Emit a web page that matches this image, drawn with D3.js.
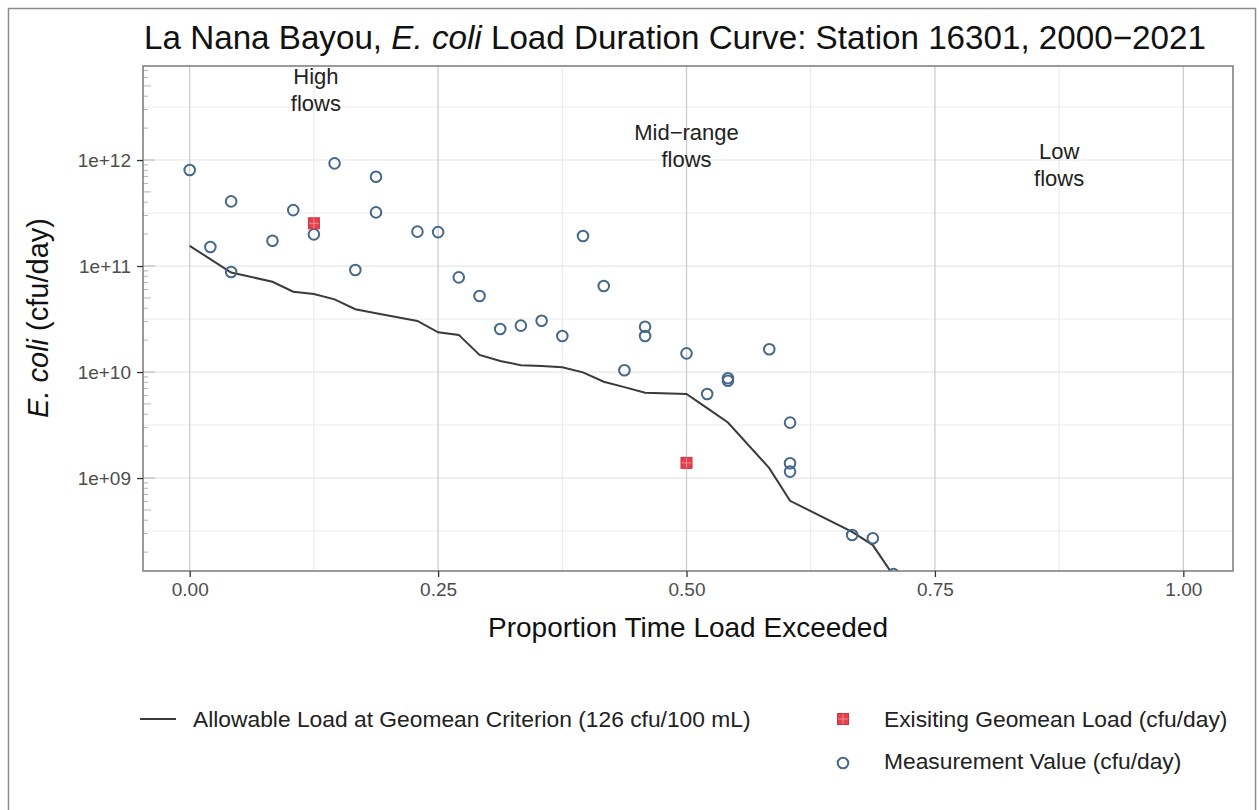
<!DOCTYPE html>
<html>
<head>
<meta charset="utf-8">
<script src="https://cdn.jsdelivr.net/npm/d3@7"></script>
<style>
  body { margin: 0; background: #fff; }
  text { font-family: "Liberation Sans", Arial, sans-serif; }
</style>
</head>
<body>
<svg id="chart" width="1259" height="810"></svg>
<script>
// measurements (proportion of time exceeded, cfu/day)
var pointProp = [0, 0.0208, 0.0417, 0.0417, 0.0833, 0.1042, 0.125, 0.1458, 0.1667, 0.1875, 0.1875,
    0.2292, 0.25, 0.2708, 0.2917, 0.3125, 0.3333, 0.3542, 0.375, 0.3958, 0.4167, 0.4375, 0.4583, 0.4583,
    0.5, 0.5208, 0.5417, 0.5417, 0.5833, 0.6042, 0.6042, 0.6042, 0.6667, 0.6875, 0.7083];
var pointLoad = [8.05e11, 1.51e11, 4.07e11, 8.77e10, 1.73e11, 3.37e11, 1.99e11, 9.3e11, 9.16e10, 6.95e11, 3.21e11,
    2.11e11, 2.09e11, 7.82e10, 5.21e10, 2.55e10, 2.74e10, 3.05e10, 2.19e10, 1.92e11, 6.47e10, 1.04e10, 2.67e10, 2.19e10,
    1.5e10, 6.2e9, 8.73e9, 8.28e9, 1.64e10, 3.33e9, 1.38e9, 1.15e9, 2.9e8, 2.7e8, 1.24e8];

// allowable load curve
var curveProp = [0, 0.0417, 0.0833, 0.1042, 0.125, 0.1458, 0.1667, 0.1875, 0.2292, 0.25, 0.2708, 0.2917,
    0.3125, 0.3333, 0.3542, 0.375, 0.3958, 0.4167, 0.4375, 0.4583, 0.5, 0.5208, 0.5417, 0.5833, 0.6042,
    0.6667, 0.6875, 0.7083];
var curveLoad = [1.55e11, 8.69e10, 7.11e10, 5.73e10, 5.45e10, 4.85e10, 3.91e10, 3.58e10, 3.03e10, 2.37e10, 2.24e10, 1.45e10,
    1.27e10, 1.16e10, 1.14e10, 1.11e10, 9.93e9, 8.1e9, 7.2e9, 6.38e9, 6.2e9, 4.57e9, 3.34e9, 1.24e9, 6.1e8,
    3.11e8, 2.33e8, 1.2e8];

// existing geomean loads
var geomeanProp = [0.125, 0.5];
var geomeanLoad = [2.53e11, 1.39e9];

var xTicks = [0, 0.25, 0.5, 0.75, 1];
var xTickLabels = ["0.00", "0.25", "0.50", "0.75", "1.00"];
var xMinor = [0.125, 0.375, 0.625, 0.875];
var yTicks = [1e9, 1e10, 1e11, 1e12];
var yTickLabels = ["1e+09", "1e+10", "1e+11", "1e+12"];
var yMinor = [Math.pow(10, 8.5), Math.pow(10, 9.5), Math.pow(10, 10.5), Math.pow(10, 11.5), Math.pow(10, 12.5)];

var regionLines = [["High", "flows"], ["Mid\u2212range", "flows"], ["Low", "flows"]];
var regionProp = [0.127, 0.5, 0.875];
var regionLoad = [4.62e12, 1.37e12, 8.97e11];

var svg = d3.select("#chart");
var pLeft = 143, pRight = 1233, pTop = 66, pBottom = 571;

var x = d3.scaleLinear().domain([-0.047, 1.05]).range([pLeft, pRight]);
var y = d3.scaleLog().domain([Math.pow(10, 8.123), Math.pow(10, 12.887)]).range([pBottom, pTop]);

// outer frame
svg.append("rect").attr("x", 8.5).attr("y", 8.5).attr("width", 1247).attr("height", 820)
    .attr("fill", "#fff").attr("stroke", "#8c8c8c").attr("stroke-width", 1.5);

// title
var title = svg.append("text").attr("x", 675).attr("y", 49).attr("text-anchor", "middle")
    .attr("font-size", 33.2).attr("fill", "#111");
title.append("tspan").text("La Nana Bayou, ");
title.append("tspan").attr("font-style", "italic").text("E. coli");
title.append("tspan").text(" Load Duration Curve: Station 16301, 2000\u22122021");

// grid
var grid = svg.append("g");
grid.selectAll("line.hmin").data(yMinor).enter().append("line")
    .attr("x1", pLeft).attr("x2", pRight)
    .attr("y1", function (d) { return y(d); }).attr("y2", function (d) { return y(d); })
    .attr("stroke", "#ececec").attr("stroke-width", 1);
grid.selectAll("line.hmaj").data(yTicks).enter().append("line")
    .attr("x1", pLeft).attr("x2", pRight)
    .attr("y1", function (d) { return y(d); }).attr("y2", function (d) { return y(d); })
    .attr("stroke", "#e6e6e6").attr("stroke-width", 1.2);
grid.selectAll("line.vmin").data(xMinor).enter().append("line")
    .attr("y1", pTop).attr("y2", pBottom)
    .attr("x1", function (d) { return x(d); }).attr("x2", function (d) { return x(d); })
    .attr("stroke", "#e8e8e8").attr("stroke-width", 1);
grid.selectAll("line.vmaj").data(xTicks).enter().append("line")
    .attr("y1", pTop).attr("y2", pBottom)
    .attr("x1", function (d) { return x(d); }).attr("x2", function (d) { return x(d); })
    .attr("stroke", "#cdcdcd").attr("stroke-width", 1.3);

// log ticks inside the left edge
var logTicks = [];
for (var e = 8; e <= 12; e++) {
    for (var k = 1; k <= 9; k++) {
        var v = k * Math.pow(10, e);
        if (v >= y.domain()[0] && v <= y.domain()[1]) logTicks.push({v: v, k: k});
    }
}
grid.selectAll("line.logt").data(logTicks).enter().append("line")
    .attr("x1", pLeft)
    .attr("x2", function (d) { return pLeft + (d.k == 1 ? 12 : (d.k == 5 ? 8 : 5)); })
    .attr("y1", function (d) { return y(d.v); }).attr("y2", function (d) { return y(d.v); })
    .attr("stroke", "#b5b5b5").attr("stroke-width", 1);

// region labels
var regions = svg.append("g");
regionLines.forEach(function (lines, i) {
    var t = regions.append("text").attr("text-anchor", "middle")
        .attr("font-size", 22).attr("fill", "#222");
    lines.forEach(function (s, j) {
        t.append("tspan").attr("x", x(regionProp[i]))
            .attr("y", y(regionLoad[i]) - 6 + j * 27).text(s);
    });
});

svg.append("clipPath").attr("id", "panel").append("rect")
    .attr("x", pLeft).attr("y", pTop).attr("width", pRight - pLeft).attr("height", pBottom - pTop);

var plot = svg.append("g").attr("clip-path", "url(#panel)");

var line = d3.line()
    .x(function (d, i) { return x(curveProp[i]); })
    .y(function (d) { return y(d); });
plot.append("path").datum(curveLoad).attr("d", line)
    .attr("fill", "none").attr("stroke", "#3a3a3a").attr("stroke-width", 2);

plot.selectAll("circle").data(pointLoad).enter().append("circle")
    .attr("cx", function (d, i) { return x(pointProp[i]); })
    .attr("cy", function (d) { return y(d); })
    .attr("r", 5.3).attr("fill", "none").attr("stroke", "#46698a").attr("stroke-width", 2);

function geoSquare(g, cx, cy) {
    g.append("rect").attr("x", cx - 5.5).attr("y", cy - 5.5).attr("width", 11).attr("height", 11)
        .attr("fill", "#e5404e").attr("stroke", "#d4303f").attr("stroke-width", 1);
    g.append("path").attr("d", "M" + (cx - 5) + "," + cy + "H" + (cx + 5) + "M" + cx + "," + (cy - 5) + "V" + (cy + 5))
        .attr("stroke", "#f08890").attr("stroke-width", 1);
}
geomeanLoad.forEach(function (d, i) {
    geoSquare(plot, x(geomeanProp[i]), y(d));
});

// panel border
svg.append("rect").attr("x", pLeft).attr("y", pTop).attr("width", pRight - pLeft).attr("height", pBottom - pTop)
    .attr("fill", "none").attr("stroke", "#7a7a7a").attr("stroke-width", 1.5);

// axes
var xAxis = svg.append("g").attr("transform", "translate(0," + pBottom + ")")
    .call(d3.axisBottom(x).tickValues(xTicks).tickSize(6).tickPadding(6)
        .tickFormat(function (d, i) { return xTickLabels[i]; }));
var yAxis = svg.append("g").attr("transform", "translate(" + pLeft + ",0)")
    .call(d3.axisLeft(y).tickValues(yTicks).tickSize(6).tickPadding(6)
        .tickFormat(function (d, i) { return yTickLabels[i]; }));
[xAxis, yAxis].forEach(function (a) {
    a.select(".domain").remove();
    a.selectAll(".tick line").attr("stroke", "#333").attr("stroke-width", 1.3);
    a.selectAll(".tick text").attr("font-size", 19).attr("fill", "#4d4d4d")
        .attr("font-family", "Liberation Sans, Arial, sans-serif");
});

// axis titles
svg.append("text").attr("x", 688).attr("y", 637).attr("text-anchor", "middle")
    .attr("font-size", 28).attr("fill", "#111").text("Proportion Time Load Exceeded");
var yTitle = svg.append("text").attr("transform", "translate(48,318) rotate(-90)")
    .attr("text-anchor", "middle").attr("font-size", 29).attr("fill", "#111");
yTitle.append("tspan").attr("font-style", "italic").text("E. coli");
yTitle.append("tspan").text(" (cfu/day)");

// legend
var legend = svg.append("g");
legend.append("line").attr("x1", 140).attr("x2", 176).attr("y1", 719).attr("y2", 719)
    .attr("stroke", "#3a3a3a").attr("stroke-width", 2);
legend.append("text").attr("x", 193).attr("y", 727).attr("font-size", 22.8).attr("fill", "#222")
    .text("Allowable Load at Geomean Criterion (126 cfu/100 mL)");
geoSquare(legend, 843, 719);
legend.append("text").attr("x", 884).attr("y", 727).attr("font-size", 22.8).attr("fill", "#222")
    .text("Exisiting Geomean Load (cfu/day)");
legend.append("circle").attr("cx", 843).attr("cy", 763).attr("r", 5.3)
    .attr("fill", "none").attr("stroke", "#46698a").attr("stroke-width", 2);
legend.append("text").attr("x", 884).attr("y", 769).attr("font-size", 22.8).attr("fill", "#222")
    .text("Measurement Value (cfu/day)");
</script>
</body>
</html>
